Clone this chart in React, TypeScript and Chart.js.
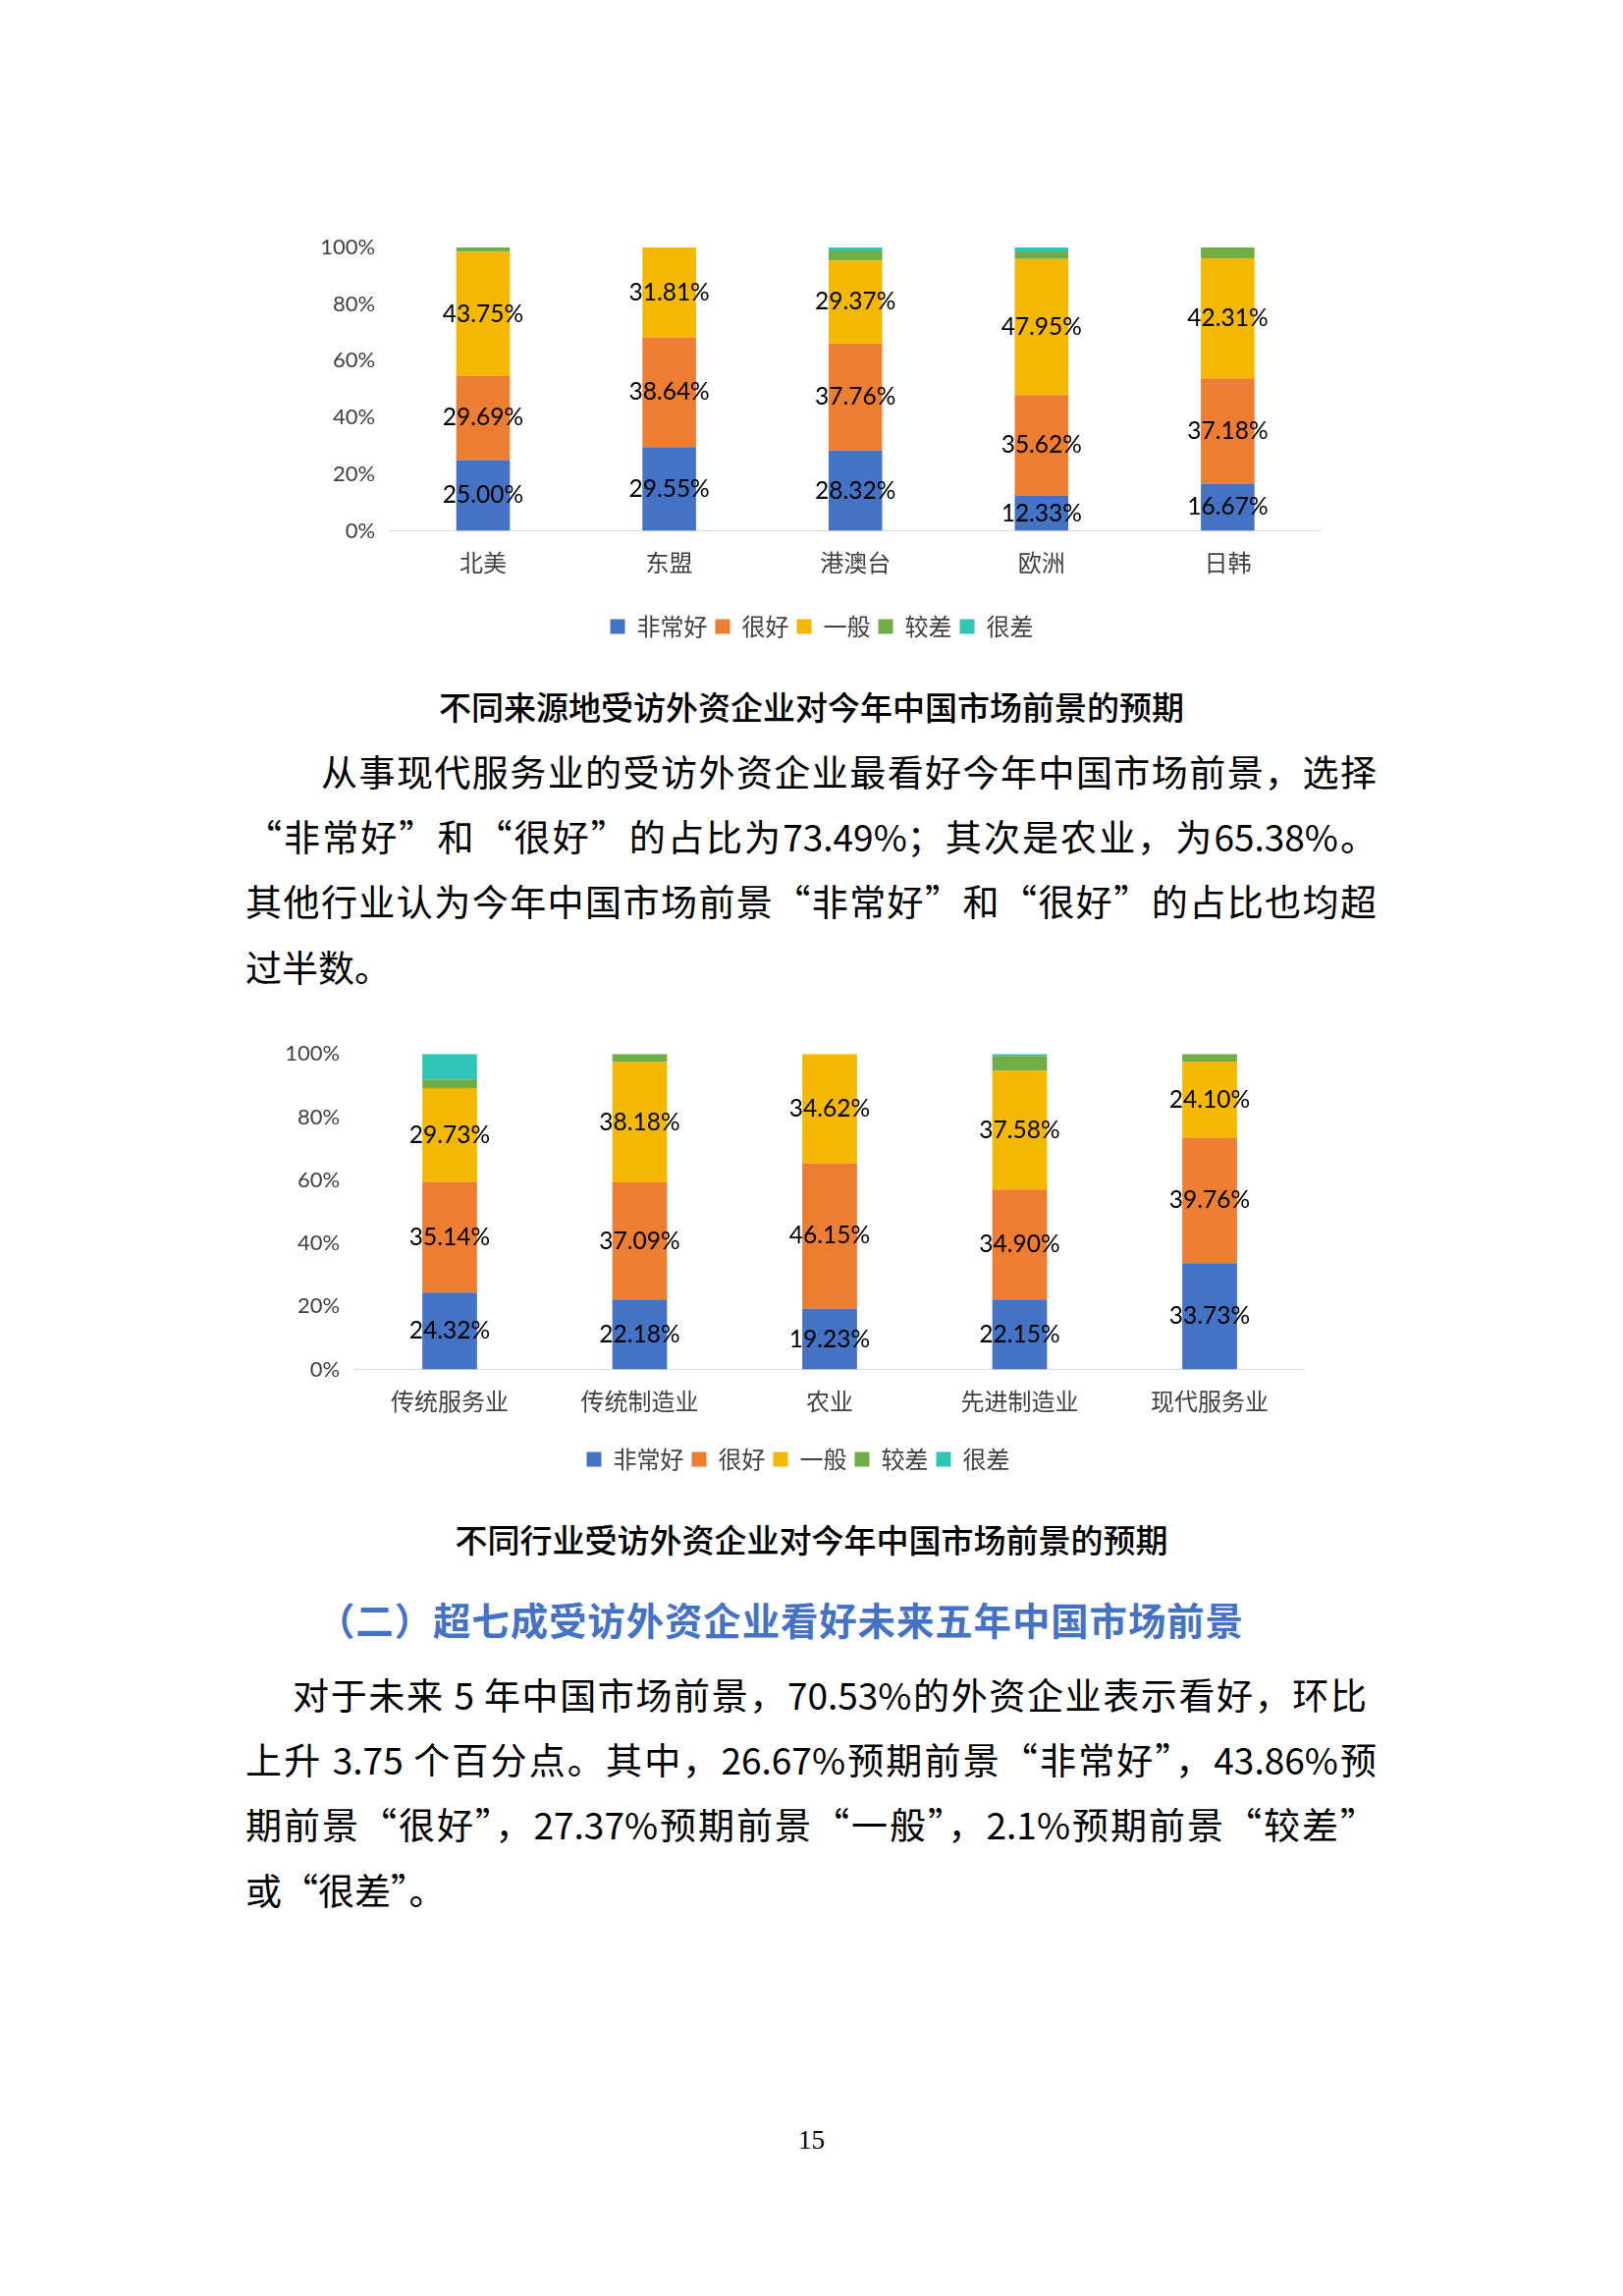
import React, { useEffect, useRef } from 'react';
import { Chart, registerables } from 'chart.js';

Chart.register(...registerables);

// ---------- data ----------
const SERIES = ['非常好', '很好', '一般', '较差', '很差'];
const COLORS = ['#4472C4', '#ED7D31', '#F4B800', '#70AD47', '#2EC4B6'];

const REGIONS = ['北美', '东盟', '港澳台', '欧洲', '日韩'];
const REGION_VERY_GOOD = [25.0, 29.55, 28.32, 12.33, 16.67];
const REGION_GOOD = [29.69, 38.64, 37.76, 35.62, 37.18];
const REGION_FAIR = [43.75, 31.81, 29.37, 47.95, 42.31];
const REGION_POOR = [1.56, 0, 3.5, 2.74, 3.85];
const REGION_VERY_POOR = [0, 0, 1.05, 1.37, 0];

const INDUSTRIES = ['传统服务业', '传统制造业', '农业', '先进制造业', '现代服务业'];
const IND_VERY_GOOD = [24.32, 22.18, 19.23, 22.15, 33.73];
const IND_GOOD = [35.14, 37.09, 46.15, 34.9, 39.76];
const IND_FAIR = [29.73, 38.18, 34.62, 37.58, 24.1];
const IND_POOR = [2.7, 2.55, 0, 4.7, 2.41];
const IND_VERY_POOR = [8.11, 0, 0, 0.67, 0];

const Y_MAX = 100;
const Y_STEP = 20;
const LABELED_SERIES = 3;

// ---------- text ----------
const CAPTION_1 = '不同来源地受访外资企业对今年中国市场前景的预期';
const CAPTION_2 = '不同行业受访外资企业对今年中国市场前景的预期';
const HEADING = '（二）超七成受访外资企业看好未来五年中国市场前景';
const PARA_1 = [
  '从事现代服务业的受访外资企业最看好今年中国市场前景，选择',
  '“非常好”和“很好”的占比为73.49%；其次是农业，为65.38%。',
  '其他行业认为今年中国市场前景“非常好”和“很好”的占比也均超',
  '过半数。',
];
const PARA_2 = [
  '对于未来 5 年中国市场前景，70.53%的外资企业表示看好，环比',
  '上升 3.75 个百分点。其中，26.67%预期前景“非常好”，43.86%预',
  '期前景“很好”，27.37%预期前景“一般”，2.1%预期前景“较差”',
  '或“很差”。',
];
const PAGE_NO = '15';

const CJK = '"Noto Sans CJK SC", "Noto Sans", sans-serif';
const NUM = 'Lato, "Noto Sans", sans-serif';

const segmentLabels = {
  id: 'segmentLabels',
  afterDatasetsDraw(chart: any) {
    const { ctx } = chart;
    ctx.save();
    ctx.font = `24.5px ${NUM}`;
    ctx.fillStyle = '#000000';
    ctx.textAlign = 'center';
    ctx.textBaseline = 'middle';
    chart.data.datasets.forEach((ds: any, di: number) => {
      if (di >= LABELED_SERIES) return;
      const meta = chart.getDatasetMeta(di);
      meta.data.forEach((el: any, i: number) => {
        const v = ds.data[i];
        if (!v) return;
        const { x, y, base } = el.getProps(['x', 'y', 'base'], true);
        ctx.fillText(v.toFixed(2) + '%', x, (y + base) / 2);
      });
    });
    ctx.restore();
  },
};

// shifts the legend block so that it is centred on a chosen x (canvas coords)
const legendShift = {
  id: 'legendShift',
  afterLayout(chart: any, _args: any, opts: any) {
    const l = chart.legend;
    if (!l || opts.center == null) return;
    const dx = opts.center - (l.left + l.right) / 2;
    l.left += dx;
    l.right += dx;
  },
};

type Box = {
  left: number; top: number; w: number; h: number;
  padL: number; padR: number; padT: number;
  yWidth: number; xHeight: number; xPad: number; legendX: number;
};

function StackedChart({ labels, series, box }: { labels: string[]; series: number[][]; box: Box }) {
  const ref = useRef<HTMLCanvasElement>(null);
  useEffect(() => {
    const chart = new Chart(ref.current as HTMLCanvasElement, {
      type: 'bar',
      data: {
        labels,
        datasets: series.map((d, i) => ({
          label: SERIES[i],
          data: d,
          backgroundColor: COLORS[i],
          borderWidth: 0,
          categoryPercentage: 1,
          barPercentage: 0.288,
        })),
      },
      options: {
        responsive: false,
        animation: false,
        layout: { padding: { left: box.padL, right: box.padR, top: box.padT, bottom: 0 } },
        plugins: {
          legend: {
            position: 'bottom',
            labels: {
              boxWidth: 15,
              boxHeight: 15,
              padding: 8,
              color: '#404040',
              font: { family: CJK, size: 24 },
            },
          },
          tooltip: { enabled: false },
          legendShift: { center: box.legendX - box.left },
        },
        scales: {
          x: {
            stacked: true,
            grid: { display: false, drawTicks: false },
            border: { display: true, color: '#d9d9d9', width: 1 },
            ticks: { padding: box.xPad, color: '#404040', font: { family: CJK, size: 24 } },
            afterFit: (s: any) => { s.height = box.xHeight; },
          },
          y: {
            stacked: true,
            min: 0,
            max: Y_MAX,
            grid: { display: false, drawTicks: false },
            border: { display: false },
            ticks: {
              stepSize: Y_STEP,
              padding: 15,
              color: '#404040',
              font: { family: NUM, size: 22 },
              callback: (v: any) => v + '%',
            },
            afterFit: (s: any) => { s.width = box.yWidth; },
          },
        },
      } as any,
      plugins: [segmentLabels, legendShift],
    });
    return () => chart.destroy();
  }, []);
  return (
    <canvas
      ref={ref}
      width={box.w}
      height={box.h}
      style={{ position: 'absolute', left: box.left, top: box.top, width: box.w, height: box.h }}
    />
  );
}

function Line({ text, left, right, cy, size, justify, style }: any) {
  return (
    <div
      style={{
        position: 'absolute',
        left,
        width: right - left,
        top: cy - 30,
        height: 60,
        lineHeight: '60px',
        fontSize: size,
        whiteSpace: 'nowrap',
        textAlign: justify ? 'justify' : 'left',
        textAlignLast: justify ? 'justify' : 'left',
        fontFamily: CJK,
        color: '#000',
        ...style,
      } as any}
    >
      {text}
    </div>
  );
}

export default function App() {
  const box1: Box = { left: 290, top: 222, w: 1080, h: 438, padL: 10, padR: 24.8, padT: 30, yWidth: 97.2, xHeight: 77.5, xPad: 18, legendX: 837 };
  const box2: Box = { left: 270, top: 1045, w: 1080, h: 463, padL: 5, padR: 21.25, padT: 27.3, yWidth: 86.25, xHeight: 71.5, xPad: 17.5, legendX: 813 };
  const p1Y = [785, 851, 917, 984];
  const p2Y = [1725, 1791, 1857, 1924];
  const bodySize = 37;
  return (
    <div
      lang="zh-CN"
      style={{ position: 'absolute', left: 0, top: 0, width: 1653, height: 2338, background: '#fff', overflow: 'hidden' }}
    >
      <StackedChart
        labels={REGIONS}
        series={[REGION_VERY_GOOD, REGION_GOOD, REGION_FAIR, REGION_POOR, REGION_VERY_POOR]}
        box={box1}
      />
      <Line text={CAPTION_1} left={0} right={1653} cy={719} size={33} style={{ textAlign: 'center', textAlignLast: 'center', fontWeight: 500 }} />
      {PARA_1.map((t, i) => (
        <Line key={'p1' + i} text={t} left={i === 0 ? 327 : 250} right={1402} cy={p1Y[i]} size={bodySize} justify={i < PARA_1.length - 1} />
      ))}
      <StackedChart
        labels={INDUSTRIES}
        series={[IND_VERY_GOOD, IND_GOOD, IND_FAIR, IND_POOR, IND_VERY_POOR]}
        box={box2}
      />
      <Line text={CAPTION_2} left={0} right={1653} cy={1567} size={33} style={{ textAlign: 'center', textAlignLast: 'center', fontWeight: 500 }} />
      <Line text={HEADING} left={323} right={1266} cy={1648} size={38.4} justify={true} style={{ color: '#4472C4', fontWeight: 700 }} />
      {PARA_2.map((t, i) => (
        <Line key={'p2' + i} text={t} left={i === 0 ? 298 : 250} right={i === 0 ? 1392 : 1402} cy={p2Y[i]} size={bodySize} justify={i < PARA_2.length - 1} />
      ))}
      <Line
        text={PAGE_NO}
        left={0}
        right={1653}
        cy={2179}
        size={27}
        style={{ textAlign: 'center', textAlignLast: 'center', fontFamily: '"Liberation Serif", "DejaVu Serif", serif' }}
      />
    </div>
  );
}
